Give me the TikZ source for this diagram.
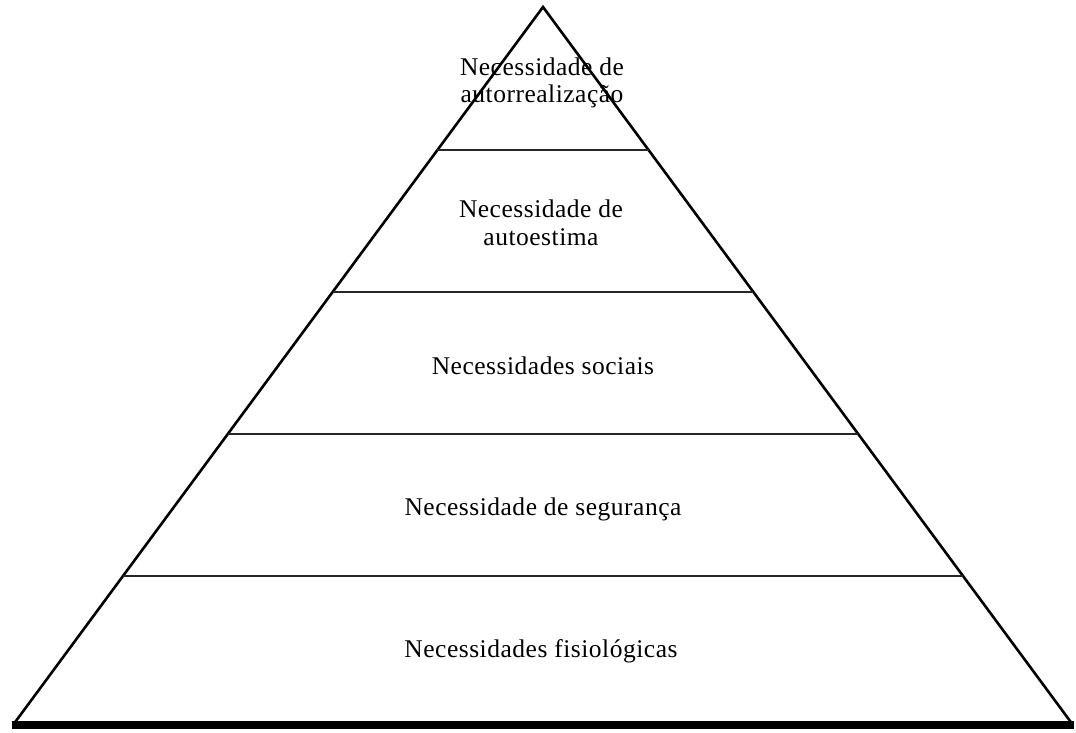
\documentclass[tikz,border=0pt]{standalone}
\usepackage{fontspec}
\setmainfont{Liberation Serif}[LetterSpace=2]
\begin{document}
\begin{tikzpicture}[x=1pt,y=-1pt,
  edge/.style={line width=2.6pt,line join=miter},
  tier/.style={line width=2.8pt,black!85},
  label/.style={anchor=base,font=\fontsize{25.5}{27.5}\selectfont,align=center,inner sep=0pt}]
\useasboundingbox[fill=white] (0,0) rectangle (1076,733);
% corners of the pyramid
\coordinate (apex) at (543,7);
\coordinate (bl) at (13,725);
\coordinate (br) at (1073,725);
% sides
\draw[edge] (bl) -- (apex) -- (br);
% base
\draw[line width=8pt] ([xshift=-1pt]bl) -- ([xshift=1pt]br);
% tier dividers, ending on the sides
\foreach \y/\n in {150/a,292/b,434/c,576/d}{
  \pgfmathsetmacro{\dx}{(530/718)*(\y-7)}
  \coordinate (l\n) at ({543-\dx},\y);
  \coordinate (r\n) at ({543+\dx},\y);
  \draw[tier] (l\n) -- (r\n);
}
% tier labels (base = baseline of the last line)
\node[label] (self) at (542,103) {Necessidade de\\autorrealização};
\node[label] (esteem) at (541,245) {Necessidade de\\autoestima};
\node[label] (social) at (543,374) {Necessidades sociais};
\node[label] (safety) at (543,515) {Necessidade de segurança};
\node[label] (physio) at (541,657) {Necessidades fisiológicas};
\end{tikzpicture}
\end{document}
